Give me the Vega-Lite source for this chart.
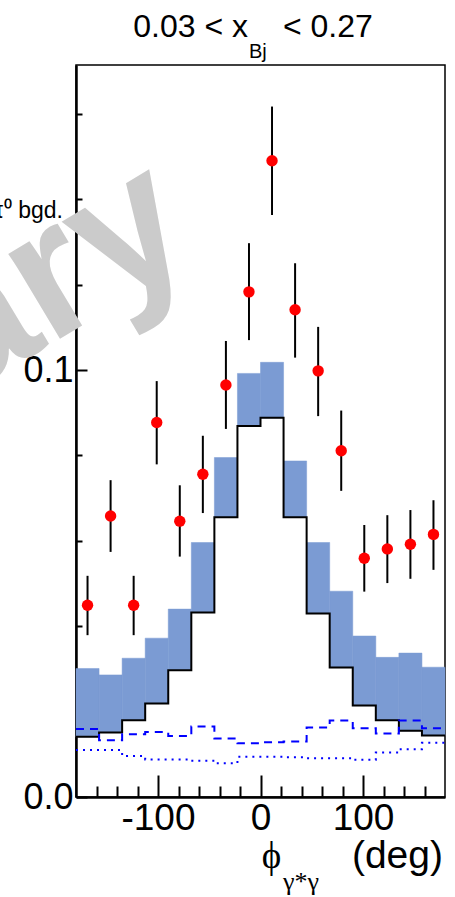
{
  "$schema": "https://vega.github.io/schema/vega-lite/v6.json",
  "width": 369,
  "height": 732,
  "autosize": {"type": "none"},
  "padding": {"left": 76, "top": 65, "right": 10, "bottom": 100},
  "background": "white",
  "config": {
    "view": {"stroke": "#000", "strokeWidth": 1.5},
    "axis": {"grid": false, "title": null, "labelFont": "Liberation Sans", "labelColor": "#000", "tickColor": "#000", "domainColor": "#000", "labelFlush": false, "labelOverlap": false}
  },
  "datasets": {
    "one": [{}],
    "bins": [
      {"center": -168.75, "lo": -180, "hi": -157.5, "val": 0.0449, "elo": 0.0379, "ehi": 0.0518, "mc": 0.0141, "band": 0.0301},
      {"center": -146.25, "lo": -157.5, "hi": -135, "val": 0.0658, "elo": 0.0574, "ehi": 0.0742, "mc": 0.0151, "band": 0.0286},
      {"center": -123.75, "lo": -135, "hi": -112.5, "val": 0.0449, "elo": 0.0379, "ehi": 0.0518, "mc": 0.0180, "band": 0.0325},
      {"center": -101.25, "lo": -112.5, "hi": -90, "val": 0.0877, "elo": 0.0779, "ehi": 0.0974, "mc": 0.0219, "band": 0.0372},
      {"center": -78.75, "lo": -90, "hi": -67.5, "val": 0.0646, "elo": 0.0563, "ehi": 0.0730, "mc": 0.0297, "band": 0.0440},
      {"center": -56.25, "lo": -67.5, "hi": -45, "val": 0.0756, "elo": 0.0665, "ehi": 0.0846, "mc": 0.0432, "band": 0.0596},
      {"center": -33.75, "lo": -45, "hi": -22.5, "val": 0.0965, "elo": 0.0862, "ehi": 0.1068, "mc": 0.0655, "band": 0.0795},
      {"center": -11.25, "lo": -22.5, "hi": 0, "val": 0.1183, "elo": 0.1070, "ehi": 0.1297, "mc": 0.0869, "band": 0.0992},
      {"center": 11.25, "lo": 0, "hi": 22.5, "val": 0.1490, "elo": 0.1363, "ehi": 0.1617, "mc": 0.0888, "band": 0.1018},
      {"center": 33.75, "lo": 22.5, "hi": 45, "val": 0.1141, "elo": 0.1029, "ehi": 0.1250, "mc": 0.0655, "band": 0.0787},
      {"center": 56.25, "lo": 45, "hi": 67.5, "val": 0.0998, "elo": 0.0892, "ehi": 0.1101, "mc": 0.0430, "band": 0.0596},
      {"center": 78.75, "lo": 67.5, "hi": 90, "val": 0.0811, "elo": 0.0717, "ehi": 0.0905, "mc": 0.0303, "band": 0.0482},
      {"center": 101.25, "lo": 90, "hi": 112.5, "val": 0.0559, "elo": 0.0481, "ehi": 0.0637, "mc": 0.0214, "band": 0.0377},
      {"center": 123.75, "lo": 112.5, "hi": 135, "val": 0.0581, "elo": 0.0501, "ehi": 0.0660, "mc": 0.0180, "band": 0.0327},
      {"center": 146.25, "lo": 135, "hi": 157.5, "val": 0.0592, "elo": 0.0511, "ehi": 0.0672, "mc": 0.0155, "band": 0.0337},
      {"center": 168.75, "lo": 157.5, "hi": 180, "val": 0.0615, "elo": 0.0532, "ehi": 0.0695, "mc": 0.0144, "band": 0.0304}
    ],
    "steps": [
      {"edge": -180, "mc": 0.0141, "dash": 0.0159, "dot": 0.0110},
      {"edge": -157.5, "mc": 0.0151, "dash": 0.0133, "dot": 0.0110},
      {"edge": -135, "mc": 0.0180, "dash": 0.0147, "dot": 0.0096},
      {"edge": -112.5, "mc": 0.0219, "dash": 0.0152, "dot": 0.0088},
      {"edge": -90, "mc": 0.0297, "dash": 0.0143, "dot": 0.0088},
      {"edge": -67.5, "mc": 0.0432, "dash": 0.0165, "dot": 0.0085},
      {"edge": -45, "mc": 0.0655, "dash": 0.0137, "dot": 0.0079},
      {"edge": -22.5, "mc": 0.0869, "dash": 0.0126, "dot": 0.0094},
      {"edge": 0, "mc": 0.0888, "dash": 0.0128, "dot": 0.0094},
      {"edge": 22.5, "mc": 0.0655, "dash": 0.0130, "dot": 0.0093},
      {"edge": 45, "mc": 0.0430, "dash": 0.0163, "dot": 0.0091},
      {"edge": 67.5, "mc": 0.0303, "dash": 0.0179, "dot": 0.0091},
      {"edge": 90, "mc": 0.0214, "dash": 0.0161, "dot": 0.0087},
      {"edge": 112.5, "mc": 0.0180, "dash": 0.0149, "dot": 0.0104},
      {"edge": 135, "mc": 0.0155, "dash": 0.0179, "dot": 0.0112},
      {"edge": 157.5, "mc": 0.0144, "dash": 0.0161, "dot": 0.0127},
      {"edge": 180, "mc": 0.0144, "dash": 0.0161, "dot": 0.0127}
    ]
  },
  "resolve": {"axis": {"x": "independent", "y": "independent"}},
  "layer": [
    {
      "data": {"name": "one"},
      "mark": {"type": "text", "text": "Preliminary", "angle": -31, "align": "right", "baseline": "alphabetic", "fontSize": 188, "fontWeight": "bold", "font": "Liberation Sans", "color": "#cbcbcb"},
      "encoding": {
        "x": {"datum": -58.0, "type": "quantitative", "scale": {"domain": [-180, 180], "nice": false, "zero": false}, "axis": null},
        "y": {"datum": 0.1272, "type": "quantitative", "scale": {"domain": [0, 0.17143], "nice": false}, "axis": null}
      }
    },
    {
      "data": {"name": "bins"},
      "mark": {"type": "rect", "fill": "#7b9bd3", "stroke": "#7b9bd3", "strokeWidth": 0.5},
      "encoding": {
        "x": {"field": "lo", "type": "quantitative", "scale": {"domain": [-180, 180], "nice": false, "zero": false},
              "axis": {"orient": "bottom", "values": [-100, 0, 100], "labelExpr": "'' + datum.value", "tickSize": -22, "tickWidth": 2, "domainWidth": 2.5, "labelFontSize": 37, "labelPadding": 25}},
        "x2": {"field": "hi"},
        "y": {"field": "mc", "type": "quantitative", "scale": {"domain": [0, 0.17143], "nice": false},
              "axis": {"orient": "left", "values": [0, 0.1], "format": ".1f", "tickSize": -11, "tickWidth": 2, "domainWidth": 2.5, "labelFontSize": 36, "labelPadding": 14}},
        "y2": {"field": "band"}
      }
    },
    {
      "data": {"name": "steps"},
      "mark": {"type": "line", "interpolate": "step-after", "color": "#000", "strokeWidth": 2},
      "encoding": {
        "x": {"field": "edge", "type": "quantitative", "scale": {"domain": [-180, 180], "nice": false, "zero": false},
              "axis": {"orient": "bottom", "values": [-160, -140, -120, -80, -60, -40, -20, 20, 40, 60, 80, 120, 140, 160], "labels": false, "domain": false, "tickSize": -11, "tickWidth": 2}},
        "y": {"field": "mc", "type": "quantitative", "scale": {"domain": [0, 0.17143], "nice": false},
              "axis": {"orient": "left", "values": [0.02, 0.04, 0.06, 0.08, 0.12, 0.14, 0.16], "labels": false, "domain": false, "tickSize": -6, "tickWidth": 2}}
      }
    },
    {
      "data": {"name": "steps"},
      "mark": {"type": "line", "interpolate": "step-after", "color": "#0000ff", "strokeWidth": 2, "strokeDash": [8, 6]},
      "encoding": {
        "x": {"field": "edge", "type": "quantitative", "scale": {"domain": [-180, 180], "nice": false, "zero": false}, "axis": null},
        "y": {"field": "dash", "type": "quantitative", "scale": {"domain": [0, 0.17143], "nice": false}, "axis": null}
      }
    },
    {
      "data": {"name": "steps"},
      "mark": {"type": "line", "interpolate": "step-after", "color": "#0000ff", "strokeWidth": 2, "strokeDash": [2, 5]},
      "encoding": {
        "x": {"field": "edge", "type": "quantitative", "scale": {"domain": [-180, 180], "nice": false, "zero": false}, "axis": null},
        "y": {"field": "dot", "type": "quantitative", "scale": {"domain": [0, 0.17143], "nice": false}, "axis": null}
      }
    },
    {
      "data": {"name": "bins"},
      "mark": {"type": "rule", "color": "#000", "strokeWidth": 2},
      "encoding": {
        "x": {"field": "center", "type": "quantitative", "scale": {"domain": [-180, 180], "nice": false, "zero": false}, "axis": null},
        "y": {"field": "elo", "type": "quantitative", "scale": {"domain": [0, 0.17143], "nice": false}, "axis": null},
        "y2": {"field": "ehi"}
      }
    },
    {
      "data": {"name": "bins"},
      "mark": {"type": "point", "shape": "circle", "filled": true, "color": "#ff0000", "opacity": 1, "size": 130},
      "encoding": {
        "x": {"field": "center", "type": "quantitative", "scale": {"domain": [-180, 180], "nice": false, "zero": false}, "axis": null},
        "y": {"field": "val", "type": "quantitative", "scale": {"domain": [0, 0.17143], "nice": false}, "axis": null}
      }
    },
    {
      "data": {"name": "one"},
      "mark": {"type": "text", "text": "0.03 < x", "align": "right", "baseline": "alphabetic", "fontSize": 32, "font": "Liberation Sans", "color": "#000"},
      "encoding": {
        "x": {"datum": -12.2, "type": "quantitative", "scale": {"domain": [-180, 180], "nice": false, "zero": false}, "axis": null},
        "y": {"datum": 0.17806, "type": "quantitative", "scale": {"domain": [0, 0.17143], "nice": false}, "axis": null}
      }
    },
    {
      "data": {"name": "one"},
      "mark": {"type": "text", "text": "Bj", "align": "left", "baseline": "alphabetic", "fontSize": 20, "font": "Liberation Sans", "color": "#000"},
      "encoding": {
        "x": {"datum": -11.2, "type": "quantitative", "scale": {"domain": [-180, 180], "nice": false, "zero": false}, "axis": null},
        "y": {"datum": 0.1730, "type": "quantitative", "scale": {"domain": [0, 0.17143], "nice": false}, "axis": null}
      }
    },
    {
      "data": {"name": "one"},
      "mark": {"type": "text", "text": "< 0.27", "align": "left", "baseline": "alphabetic", "fontSize": 32, "font": "Liberation Sans", "color": "#000"},
      "encoding": {
        "x": {"datum": 21.95, "type": "quantitative", "scale": {"domain": [-180, 180], "nice": false, "zero": false}, "axis": null},
        "y": {"datum": 0.17806, "type": "quantitative", "scale": {"domain": [0, 0.17143], "nice": false}, "axis": null}
      }
    },
    {
      "data": {"name": "one"},
      "mark": {"type": "text", "text": "π⁰ bgd.", "align": "right", "baseline": "alphabetic", "fontSize": 23, "font": "Liberation Sans", "color": "#000"},
      "encoding": {
        "x": {"datum": -192.7, "type": "quantitative", "scale": {"domain": [-180, 180], "nice": false, "zero": false}, "axis": null},
        "y": {"datum": 0.1356, "type": "quantitative", "scale": {"domain": [0, 0.17143], "nice": false}, "axis": null}
      }
    },
    {
      "data": {"name": "one"},
      "mark": {"type": "text", "text": "ϕ", "align": "center", "baseline": "alphabetic", "fontSize": 37, "font": "Liberation Serif", "color": "#000"},
      "encoding": {
        "x": {"datum": 10.7, "type": "quantitative", "scale": {"domain": [-180, 180], "nice": false, "zero": false}, "axis": null},
        "y": {"datum": -0.01663, "type": "quantitative", "scale": {"domain": [0, 0.17143], "nice": false}, "axis": null}
      }
    },
    {
      "data": {"name": "one"},
      "mark": {"type": "text", "text": "γ*γ", "align": "left", "baseline": "alphabetic", "fontSize": 26, "font": "Liberation Serif", "color": "#000"},
      "encoding": {
        "x": {"datum": 21.95, "type": "quantitative", "scale": {"domain": [-180, 180], "nice": false, "zero": false}, "axis": null},
        "y": {"datum": -0.02178, "type": "quantitative", "scale": {"domain": [0, 0.17143], "nice": false}, "axis": null}
      }
    },
    {
      "data": {"name": "one"},
      "mark": {"type": "text", "text": "(deg)", "align": "right", "baseline": "alphabetic", "fontSize": 39, "font": "Liberation Sans", "color": "#000"},
      "encoding": {
        "x": {"datum": 178.0, "type": "quantitative", "scale": {"domain": [-180, 180], "nice": false, "zero": false}, "axis": null},
        "y": {"datum": -0.01663, "type": "quantitative", "scale": {"domain": [0, 0.17143], "nice": false}, "axis": null}
      }
    }
  ]
}
